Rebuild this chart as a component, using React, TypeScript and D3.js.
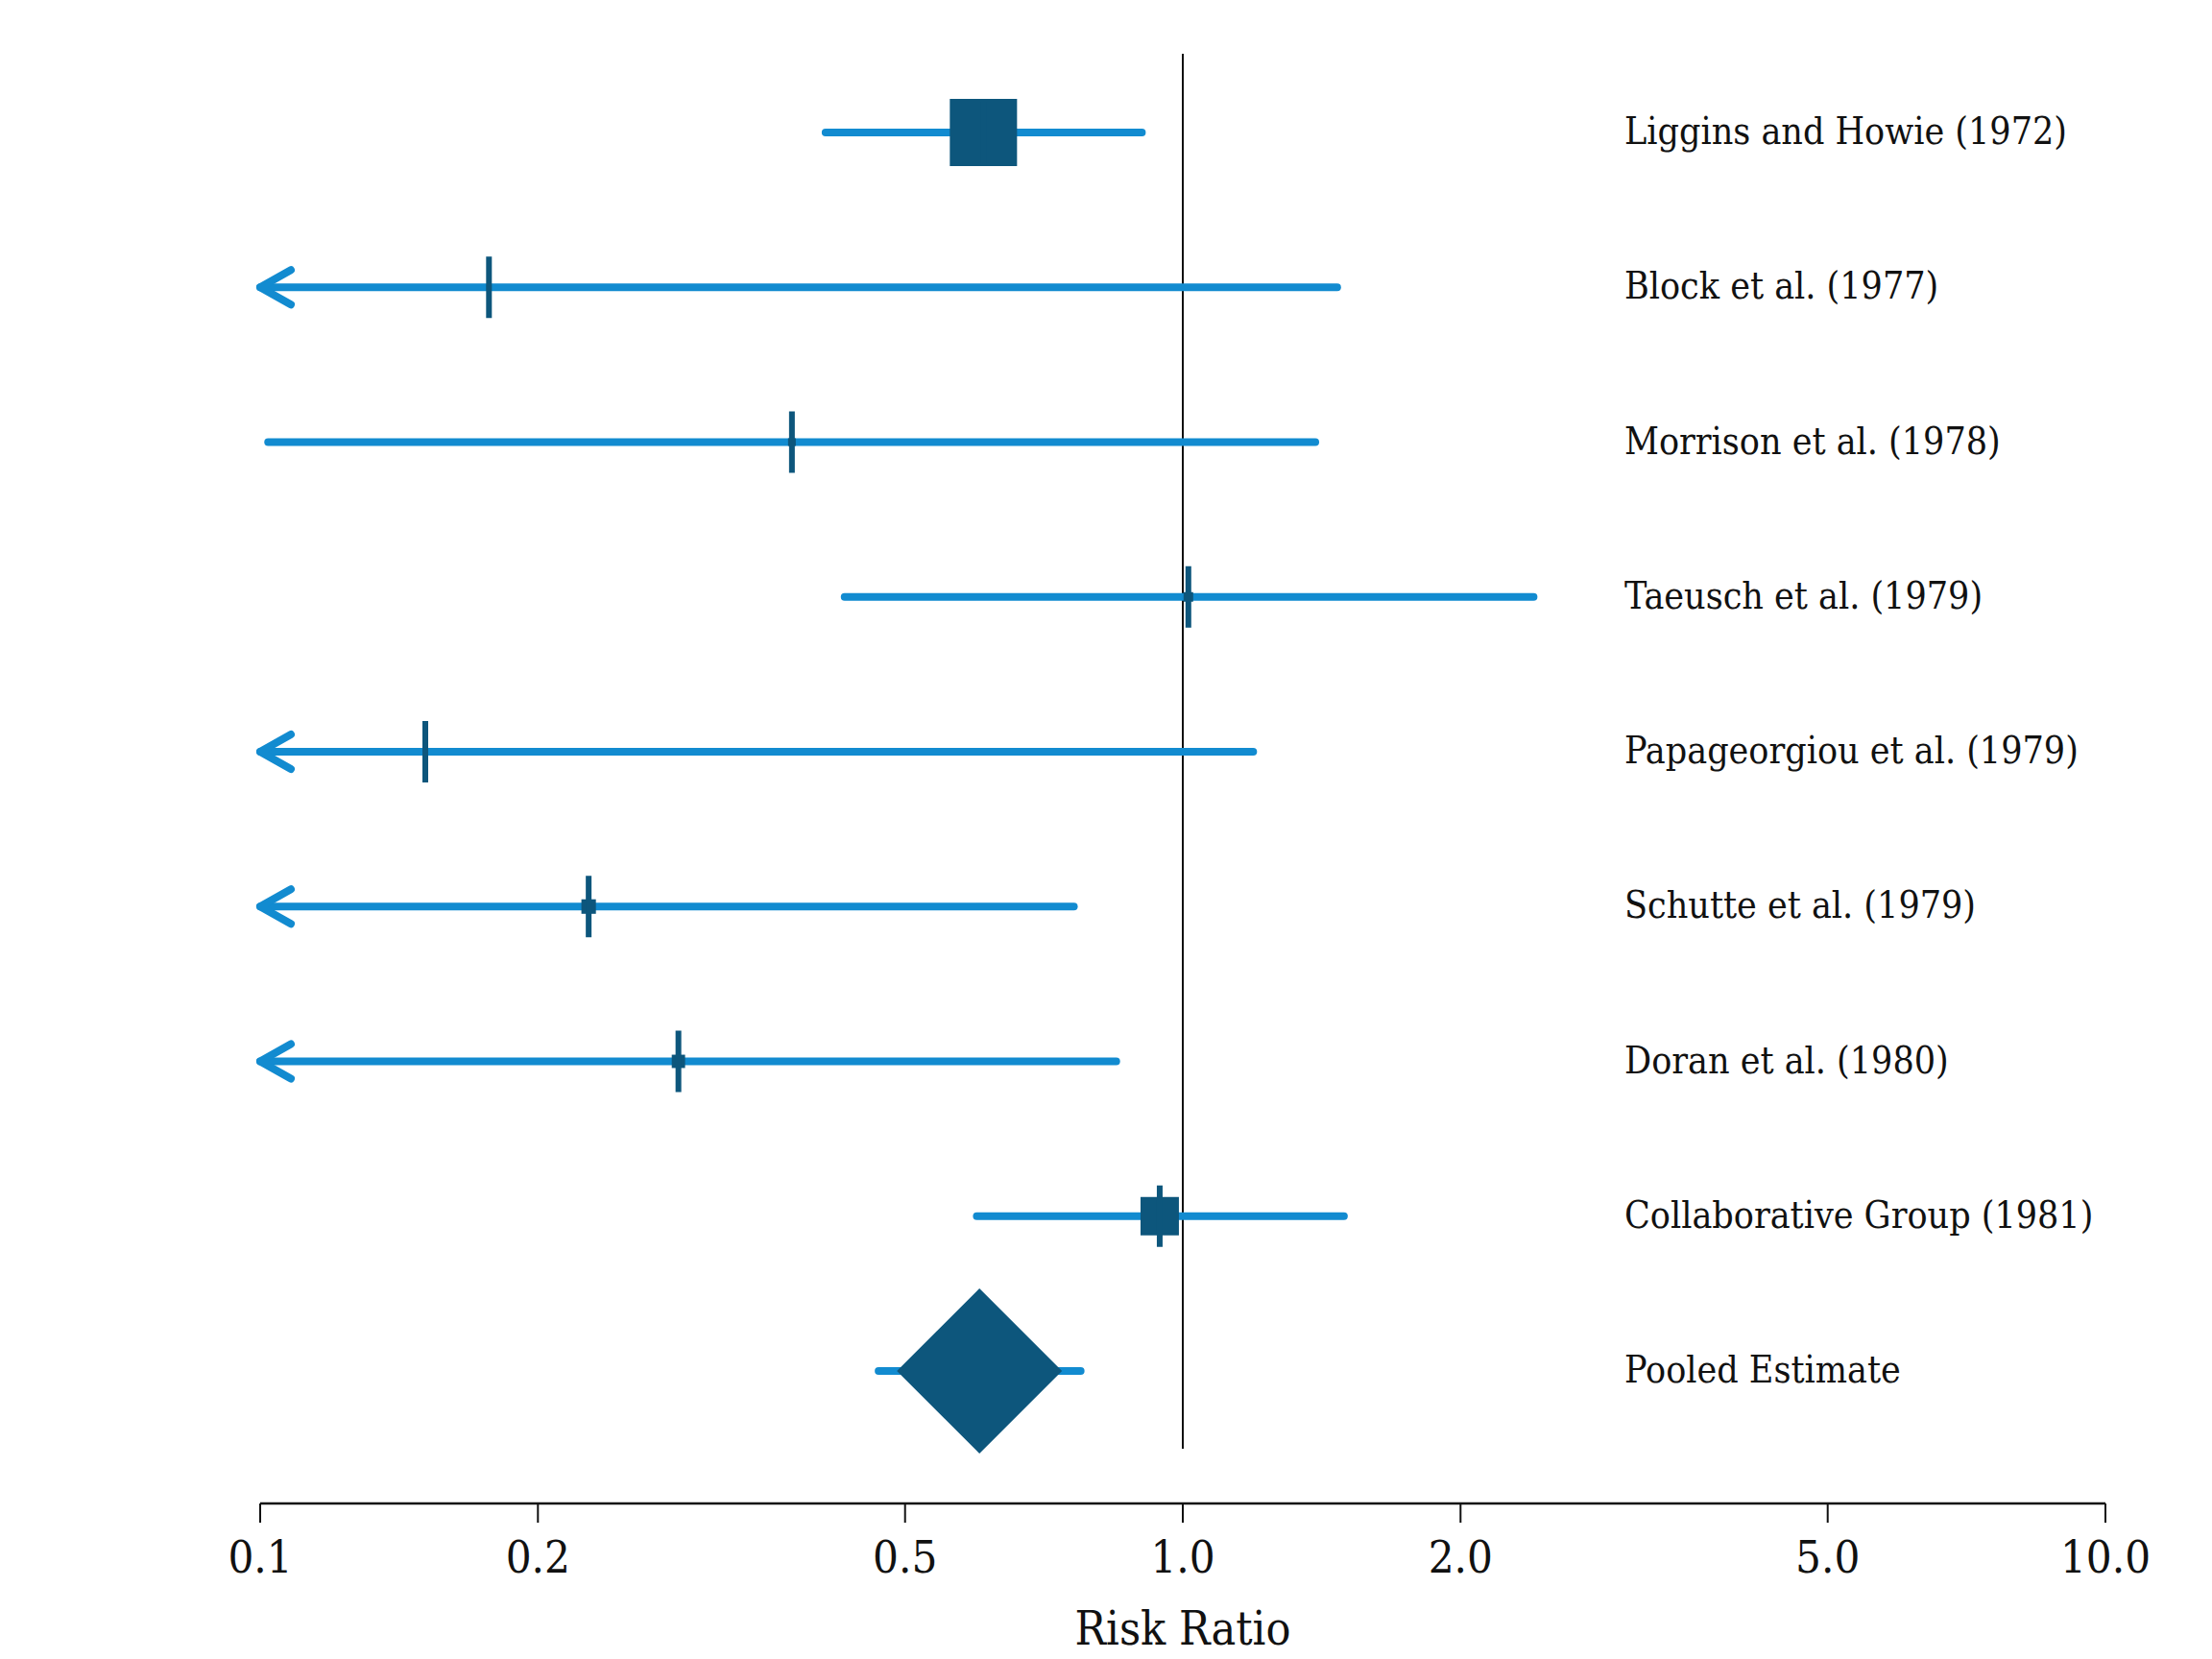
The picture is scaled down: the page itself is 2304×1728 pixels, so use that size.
import React from "react";
import { scaleLog, scalePoint, scaleSqrt } from "d3";

// study rows, top to bottom (the last one is the pooled estimate)
const studies = [
  "Liggins and Howie (1972)",
  "Block et al. (1977)",
  "Morrison et al. (1978)",
  "Taeusch et al. (1979)",
  "Papageorgiou et al. (1979)",
  "Schutte et al. (1979)",
  "Doran et al. (1980)",
  "Collaborative Group (1981)",
  "Pooled Estimate",
];
const riskRatio = [0.608, 0.177, 0.377, 1.014, 0.151, 0.227, 0.284, 0.944, 0.602];
const lowerCI = [0.41, 0.02, 0.102, 0.43, 0.01, 0.04, 0.05, 0.598, 0.468];
const upperCI = [0.903, 1.47, 1.392, 2.4, 1.192, 0.762, 0.847, 1.495, 0.775];
// study weights (%)
const weights = [68.7, 0.35, 0.9, 1.4, 0.35, 3.2, 2.7, 22.4, 100];
const tickValues = [0.1, 0.2, 0.5, 1.0, 2.0, 5.0, 10.0];

const W = 2304;
const H = 1728;
const lineColor = "#128bd0";
const markColor = "#0d567c";
const font = "'DejaVu Serif Condensed', 'DejaVu Serif', serif";

export default function App() {
  const x = scaleLog().domain([0.1, 10]).range([271, 2193]);
  const y = scalePoint<string>().domain(studies).range([138, 1428]);
  const size = scaleSqrt().domain([0, 68.7]).range([0, 70]);
  const axisY = 1566;
  const clampX = (v: number) => x(Math.max(v, 0.1));
  const pooledIdx = studies.length - 1;

  return (
    <div style={{ position: "absolute", left: 0, top: 0 }}>
      <svg width={W} height={H} style={{ display: "block", background: "#fff" }}>
        {/* reference line at RR = 1 */}
        <line x1={x(1)} x2={x(1)} y1={56} y2={1509} stroke="#111" strokeWidth={2} />

        {studies.map((s, i) => {
          const cy = y(s)!;
          const lo = lowerCI[i];
          const hi = upperCI[i];
          const pt = riskRatio[i];
          const arrow = lo < 0.1;
          const x0 = clampX(lo);
          return (
            <g key={s}>
              <line
                x1={x0}
                x2={x(hi)}
                y1={cy}
                y2={cy}
                stroke={lineColor}
                strokeWidth={8}
                strokeLinecap="round"
              />
              {arrow && (
                <polyline
                  points={`${x0 + 32},${cy - 18} ${x0},${cy} ${x0 + 32},${cy + 18}`}
                  fill="none"
                  stroke={lineColor}
                  strokeWidth={8}
                  strokeLinecap="round"
                  strokeLinejoin="round"
                />
              )}
              {i === pooledIdx ? (
                <polygon
                  points={`${x(pt)},${cy - 86} ${x(pt) + 86},${cy} ${x(pt)},${cy + 86} ${x(pt) - 86},${cy}`}
                  fill={markColor}
                />
              ) : (
                <>
                  <rect
                    x={x(pt) - size(weights[i]) / 2}
                    y={cy - size(weights[i]) / 2}
                    width={size(weights[i])}
                    height={size(weights[i])}
                    fill={markColor}
                  />
                  <line
                    x1={x(pt)}
                    x2={x(pt)}
                    y1={cy - 32}
                    y2={cy + 32}
                    stroke={markColor}
                    strokeWidth={6}
                  />
                </>
              )}
              <text x={1692} y={cy + 12} fontFamily={font} fontSize={39} fill="#111">
                {s}
              </text>
            </g>
          );
        })}

        {/* x axis */}
        <line x1={x(0.1)} x2={x(10)} y1={axisY} y2={axisY} stroke="#111" strokeWidth={2.5} />
        {tickValues.map((t) => (
          <g key={t} transform={`translate(${x(t)},${axisY})`}>
            <line y1={0} y2={20} stroke="#111" strokeWidth={2} />
            <text y={72} textAnchor="middle" fontFamily={font} fontSize={47} fill="#111">
              {t.toFixed(1)}
            </text>
          </g>
        ))}
        <text
          x={x(1)}
          y={1713}
          textAnchor="middle"
          fontFamily={font}
          fontSize={48}
          fill="#111"
        >
          Risk Ratio
        </text>
      </svg>
    </div>
  );
}
